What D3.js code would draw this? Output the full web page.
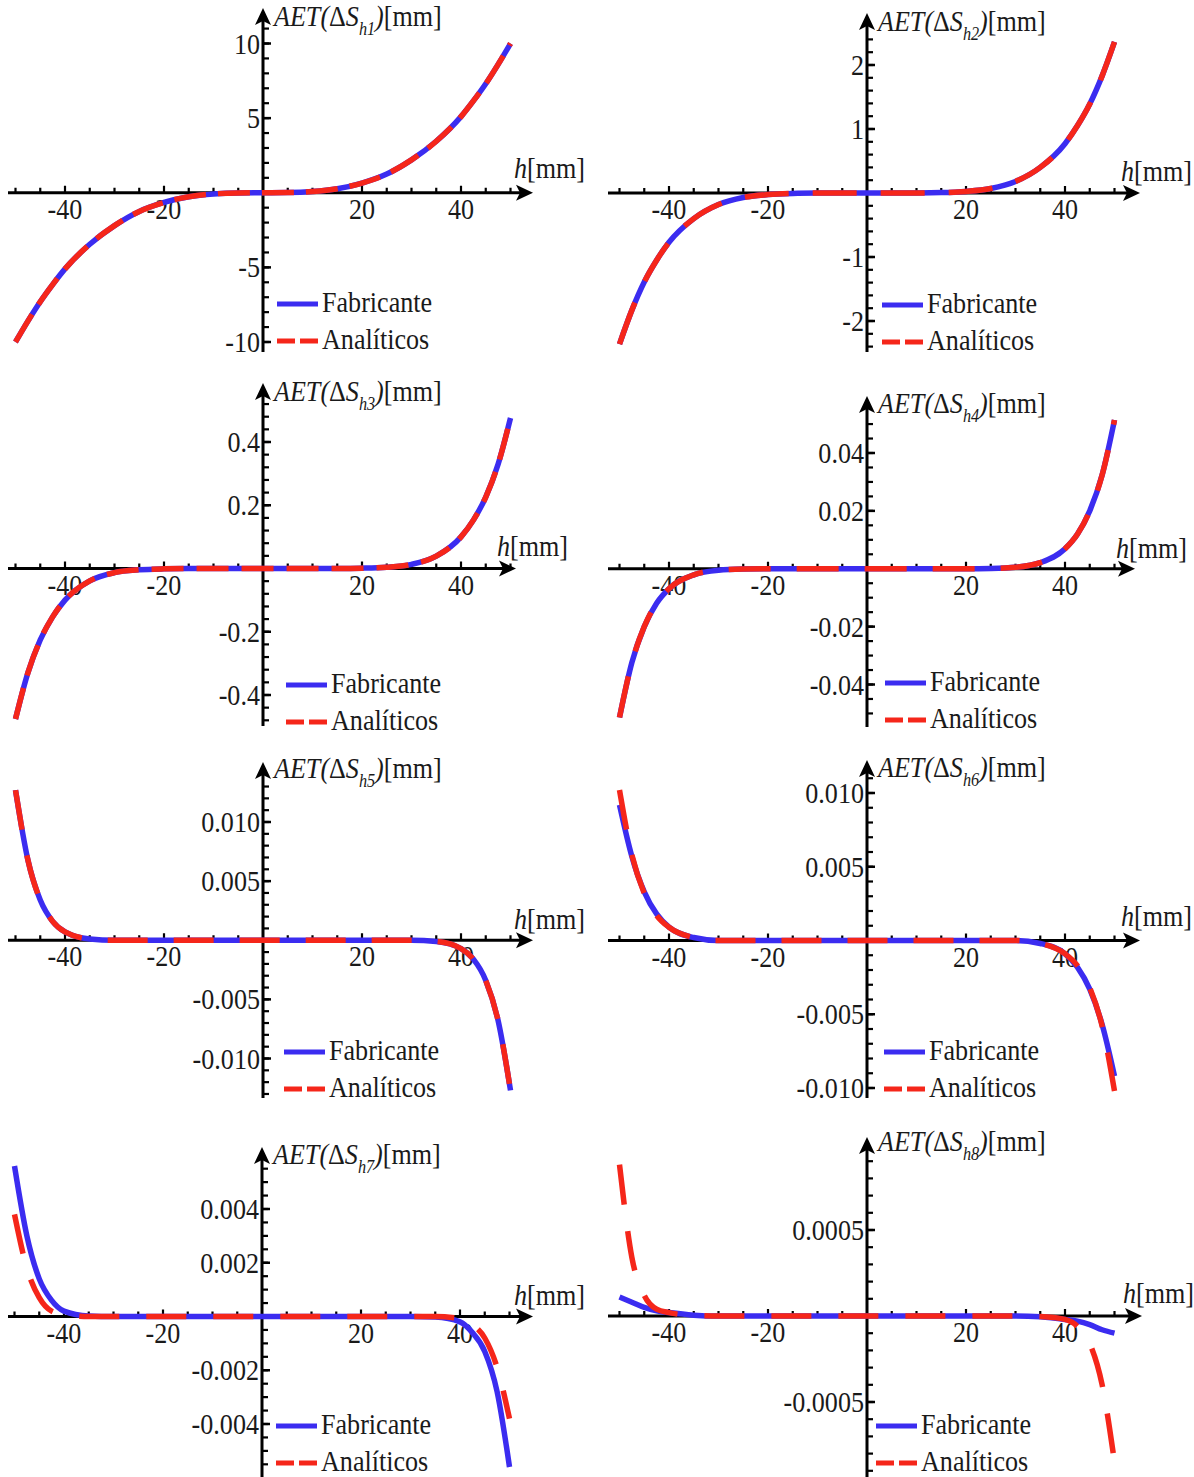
<!DOCTYPE html>
<html lang="es">
<head>
<meta charset="UTF-8">
<title>AET(ΔS_h) – Fabricante vs Analíticos</title>
<script src="https://d3js.org/d3.v7.min.js"></script>
<style>
  body { margin: 0; background: #fff; }
  svg { display: block; font-family: "Times New Roman", "Liberation Serif", Times, serif; }
  .lbl { font-size: 29px; fill: #1a1a1a; }
  .it { font-style: italic; }
</style>
</head>
<body>
<svg id="chart" width="1194" height="1477"></svg>
<script>
const hValues = [-50, -47.5, -45, -42.5, -40, -35, -30, -25, -20, -15, -10, -5, 0,
                 5, 10, 15, 20, 25, 30, 35, 40, 42.5, 45, 47.5, 50];

// AET(ΔS_h1)
const fab1 = [-10, -8.6, -7.3, -6.15, -5.1, -3.45, -2.2, -1.25, -0.65, -0.27, -0.08, -0.01, 0,
              0.01, 0.08, 0.27, 0.65, 1.25, 2.2, 3.45, 5.1, 6.15, 7.3, 8.6, 10];
const ana1 = [-10, -8.6, -7.3, -6.15, -5.1, -3.45, -2.2, -1.25, -0.65, -0.27, -0.08, -0.01, 0,
              0.01, 0.08, 0.27, 0.65, 1.25, 2.2, 3.45, 5.1, 6.15, 7.3, 8.6, 10];
// AET(ΔS_h2)
const fab2 = [-2.36, -1.83, -1.39, -1.05, -0.77, -0.40, -0.18, -0.07, -0.024, -0.006, -0.001, 0, 0,
              0, 0.001, 0.006, 0.024, 0.07, 0.18, 0.40, 0.77, 1.05, 1.39, 1.83, 2.36];
const ana2 = [-2.36, -1.83, -1.39, -1.05, -0.77, -0.40, -0.18, -0.07, -0.024, -0.006, -0.001, 0, 0,
              0, 0.001, 0.006, 0.024, 0.07, 0.18, 0.40, 0.77, 1.05, 1.39, 1.83, 2.36];
// AET(ΔS_h3)
const fab3 = [-0.476, -0.33, -0.226, -0.153, -0.1, -0.039, -0.013, -0.004, -0.001, -0.0001, 0, 0, 0,
              0, 0, 0.0001, 0.001, 0.004, 0.013, 0.039, 0.1, 0.153, 0.226, 0.33, 0.476];
const ana3 = [-0.476, -0.33, -0.226, -0.153, -0.1, -0.039, -0.013, -0.004, -0.001, -0.0001, 0, 0, 0,
              0, 0, 0.0001, 0.001, 0.004, 0.013, 0.039, 0.1, 0.153, 0.226, 0.33, 0.476];
// AET(ΔS_h4)
const fab4 = [-0.0514, -0.0324, -0.020, -0.0119, -0.0069, -0.0021, -0.0005, -0.0001, 0, 0, 0, 0, 0,
              0, 0, 0, 0, 0.0001, 0.0005, 0.0021, 0.0069, 0.0119, 0.020, 0.0324, 0.0514];
const ana4 = [-0.0514, -0.0324, -0.020, -0.0119, -0.0069, -0.0021, -0.0005, -0.0001, 0, 0, 0, 0, 0,
              0, 0, 0, 0, 0.0001, 0.0005, 0.0021, 0.0069, 0.0119, 0.020, 0.0324, 0.0514];
// AET(ΔS_h5)
const fab5 = [0.0127, 0.0068, 0.0034, 0.0016, 0.0007, 0.0001, 0, 0, 0, 0, 0, 0, 0,
              0, 0, 0, 0, 0, 0, -0.0001, -0.0007, -0.0016, -0.0034, -0.0068, -0.0127];
const ana5 = [0.0127, 0.0068, 0.0034, 0.0016, 0.0007, 0.0001, 0, 0, 0, 0, 0, 0, 0,
              0, 0, 0, 0, 0, 0, -0.0001, -0.0007, -0.0016, -0.0034, -0.0068, -0.0127];
// AET(ΔS_h6)
const fab6 = [0.0092, 0.0057, 0.0033, 0.0018, 0.0009, 0.0002, 0, 0, 0, 0, 0, 0, 0,
              0, 0, 0, 0, 0, 0, -0.0002, -0.0009, -0.0018, -0.0033, -0.0057, -0.0092];
const ana6 = [0.0102, 0.0058, 0.0032, 0.0017, 0.0009, 0.0002, 0, 0, 0, 0, 0, 0, 0,
              0, 0, 0, 0, 0, 0, -0.0002, -0.0009, -0.0017, -0.0032, -0.0058, -0.0102];
// AET(ΔS_h7)
const fab7 = [0.0056, 0.0030, 0.0014, 0.0006, 0.0002, 0.00002, 0, 0, 0, 0, 0, 0, 0,
              0, 0, 0, 0, 0, 0, -0.00002, -0.0002, -0.0006, -0.0013, -0.0028, -0.0056];
const ana7 = [0.0038, 0.0018, 0.0007, 0.0002, 0.00008, 0, 0, 0, 0, 0, 0, 0, 0,
              0, 0, 0, 0, 0, 0, 0, -0.00008, -0.0003, -0.0008, -0.0019, -0.0038];
// AET(ΔS_h8)
const fab8 = [0.00011, 0.00008, 0.00005, 0.00003, 0.00002, 0.000005, 0, 0, 0, 0, 0, 0, 0,
              0, 0, 0, 0, 0, 0, -0.000005, -0.00002, -0.00003, -0.00005, -0.00008, -0.0001];
const ana8 = [0.00088, 0.00034, 0.00012, 0.00004, 0.00002, 0.000003, 0, 0, 0, 0, 0, 0, 0,
              0, 0, 0, 0, 0, 0, -0.000003, -0.00002, -0.00006, -0.00016, -0.0004, -0.00085];

// tick values and labels
const xTicks = [-40, -20, 20, 40];
const xTickLabels = ["-40", "-20", "20", "40"];
const yTicks1 = [-10, -5, 5, 10],               yLabels1 = ["-10", "-5", "5", "10"];
const yTicks2 = [-2, -1, 1, 2],                 yLabels2 = ["-2", "-1", "1", "2"];
const yTicks3 = [-0.4, -0.2, 0.2, 0.4],         yLabels3 = ["-0.4", "-0.2", "0.2", "0.4"];
const yTicks4 = [-0.04, -0.02, 0.02, 0.04],     yLabels4 = ["-0.04", "-0.02", "0.02", "0.04"];
const yTicks5 = [-0.010, -0.005, 0.005, 0.010], yLabels5 = ["-0.010", "-0.005", "0.005", "0.010"];
const yTicks6 = [-0.010, -0.005, 0.005, 0.010], yLabels6 = ["-0.010", "-0.005", "0.005", "0.010"];
const yTicks7 = [-0.004, -0.002, 0.002, 0.004], yLabels7 = ["-0.004", "-0.002", "0.002", "0.004"];
const yTicks8 = [-0.0005, 0.0005],              yLabels8 = ["-0.0005", "0.0005"];
const legendLabels = ["Fabricante", "Analíticos"];

const BLUE = "#3b2cf0", RED = "#f5261a";
const SX = 0.9; // glyphs in the figure are a little taller than wide

// layout of each panel (pixels)
const panels = [
  { sub: "h1", fab: fab1, ana: ana1, yt: yTicks1, yl: yLabels1, minor: 1,
    cx: 263, xl: 8, xr: 533, yPx: [342, 43.5], top: 8, bottom: 352, legX: 277, legY: 304, labY: 26, hY: 178, dash: "32,12" },
  { sub: "h2", fab: fab2, ana: ana2, yt: yTicks2, yl: yLabels2, minor: 0.2,
    cx: 867, xl: 608, xr: 1140, yPx: [321, 65], top: 13, bottom: 352, legX: 882, legY: 305, labY: 31, hY: 181, dash: "44,24" },
  { sub: "h3", fab: fab3, ana: ana3, yt: yTicks3, yl: yLabels3, minor: 0.04,
    cx: 263, xl: 8, xr: 516, yPx: [695, 442], top: 383, bottom: 726, legX: 286, legY: 685, labY: 401, hY: 556, dash: "32,13" },
  { sub: "h4", fab: fab4, ana: ana4, yt: yTicks4, yl: yLabels4, minor: 0.005,
    cx: 867, xl: 608, xr: 1135, yPx: [684.5, 453], top: 396, bottom: 727, legX: 885, legY: 683, labY: 413, hY: 558, dash: "42,26" },
  { sub: "h5", fab: fab5, ana: ana5, yt: yTicks5, yl: yLabels5, minor: 0.001,
    cx: 263, xl: 8, xr: 533, yPx: [1058.5, 822], top: 762, bottom: 1098, legX: 284, legY: 1052, labY: 778, hY: 929, dash: "40,26" },
  { sub: "h6", fab: fab6, ana: ana6, yt: yTicks6, yl: yLabels6, minor: 0.001,
    cx: 867, xl: 608, xr: 1140, yPx: [1088, 793], top: 760, bottom: 1098, legX: 884, legY: 1052, labY: 777, hY: 926, dash: "40,26" },
  { sub: "h7", fab: fab7, ana: ana7, yt: yTicks7, yl: yLabels7, minor: 0.0005,
    cx: 262, xl: 8, xr: 533, yPx: [1424, 1209], top: 1147, bottom: 1477, legX: 276, legY: 1426, labY: 1164, hY: 1305, dash: "40,27" },
  { sub: "h8", fab: fab8, ana: ana8, yt: yTicks8, yl: yLabels8, minor: 0.0001,
    cx: 867, xl: 608, xr: 1142, yPx: [1402, 1230], top: 1137, bottom: 1477, legX: 876, legY: 1426, labY: 1151, hY: 1303, dash: "40,27" }
];

const svg = d3.select("#chart");
svg.append("rect").attr("width", 1194).attr("height", 1477).attr("fill", "#fff");

// text placed at (tx, ty), slightly condensed
function label(sel, tx, ty, anchor) {
  return sel.append("text")
    .attr("class", "lbl")
    .attr("text-anchor", anchor || "start")
    .attr("transform", `translate(${tx},${ty}) scale(${SX},1)`);
}

panels.forEach(p => {
  const g = svg.append("g");
  const x = d3.scaleLinear().domain([-40, 40]).range([p.cx - 198, p.cx + 198]);
  const y = d3.scaleLinear().domain([p.yt[0], p.yt[p.yt.length - 1]]).range(p.yPx);
  const y0 = y(0);

  const line = d3.line()
    .x((d, i) => x(hValues[i]))
    .y(d => y(d))
    .curve(d3.curveMonotoneX);

  // axes with arrow heads
  g.append("line").attr("x1", p.xl).attr("x2", p.xr - 10).attr("y1", y0).attr("y2", y0)
    .attr("stroke", "#000").attr("stroke-width", 3);
  g.append("path")
    .attr("d", `M${p.xr},${y0} L${p.xr - 17},${y0 - 8} L${p.xr - 13},${y0} L${p.xr - 17},${y0 + 8} Z`)
    .attr("fill", "#000");
  g.append("line").attr("x1", p.cx).attr("x2", p.cx).attr("y1", p.bottom).attr("y2", p.top + 10)
    .attr("stroke", "#000").attr("stroke-width", 3);
  g.append("path")
    .attr("d", `M${p.cx},${p.top} L${p.cx - 8},${p.top + 17} L${p.cx},${p.top + 13} L${p.cx + 8},${p.top + 17} Z`)
    .attr("fill", "#000");

  // x ticks every 5, longer at the labelled ones
  const xMinor = d3.range(-50, 51, 5).filter(v => v !== 0);
  g.selectAll(".xt").data(xMinor).join("line")
    .attr("x1", d => x(d)).attr("x2", d => x(d))
    .attr("y1", y0).attr("y2", d => y0 - (xTicks.includes(d) ? 7 : 5))
    .attr("stroke", "#000").attr("stroke-width", 2.2);
  xTicks.forEach((v, i) => label(g, x(v), y0 + 26, "middle").text(xTickLabels[i]));

  // y ticks
  const lo = Math.ceil(y.invert(p.bottom) / p.minor - 1e-6);
  const hi = Math.floor(y.invert(p.top + 16) / p.minor + 1e-6);
  const yMinor = d3.range(lo, hi + 1).map(k => k * p.minor).filter(v => Math.abs(v) > p.minor / 2);
  g.selectAll(".ytm").data(yMinor).join("line")
    .attr("x1", p.cx).attr("x2", p.cx + 6)
    .attr("y1", d => y(d)).attr("y2", d => y(d))
    .attr("stroke", "#000").attr("stroke-width", 2.2);
  g.selectAll(".ytM").data(p.yt).join("line")
    .attr("x1", p.cx).attr("x2", p.cx + 8)
    .attr("y1", d => y(d)).attr("y2", d => y(d))
    .attr("stroke", "#000").attr("stroke-width", 2.5);
  p.yt.forEach((v, i) => label(g, p.cx - 3, y(v) + 10, "end").text(p.yl[i]));

  // data lines
  g.append("path").attr("d", line(p.fab))
    .attr("fill", "none").attr("stroke", BLUE).attr("stroke-width", 5.5);
  g.append("path").attr("d", line(p.ana))
    .attr("fill", "none").attr("stroke", RED).attr("stroke-width", 5.5)
    .attr("stroke-dasharray", p.dash);

  // axis labels
  const yl = label(g, p.cx + 11, p.labY);
  yl.append("tspan").attr("class", "it").text("AET(");
  yl.append("tspan").text("Δ");
  yl.append("tspan").attr("class", "it").text("S");
  yl.append("tspan").attr("class", "it").attr("font-size", 18).attr("dy", 9).text(p.sub);
  yl.append("tspan").attr("class", "it").attr("dy", -9).text(")");
  yl.append("tspan").text("[mm]");

  const xlab = label(g, p.xr - 19, p.hY);
  xlab.append("tspan").attr("class", "it").text("h");
  xlab.append("tspan").text("[mm]");

  // legend
  const leg = g.append("g").attr("transform", `translate(${p.legX},${p.legY})`);
  leg.append("line").attr("x1", 0).attr("x2", 41).attr("y1", 0).attr("y2", 0)
    .attr("stroke", BLUE).attr("stroke-width", 5);
  leg.append("line").attr("x1", 0).attr("x2", 41).attr("y1", 37).attr("y2", 37)
    .attr("stroke", RED).attr("stroke-width", 5).attr("stroke-dasharray", "18,5");
  legendLabels.forEach((t, i) => label(leg, 45, i * 37 + 8).text(t));
});
</script>
</body>
</html>
